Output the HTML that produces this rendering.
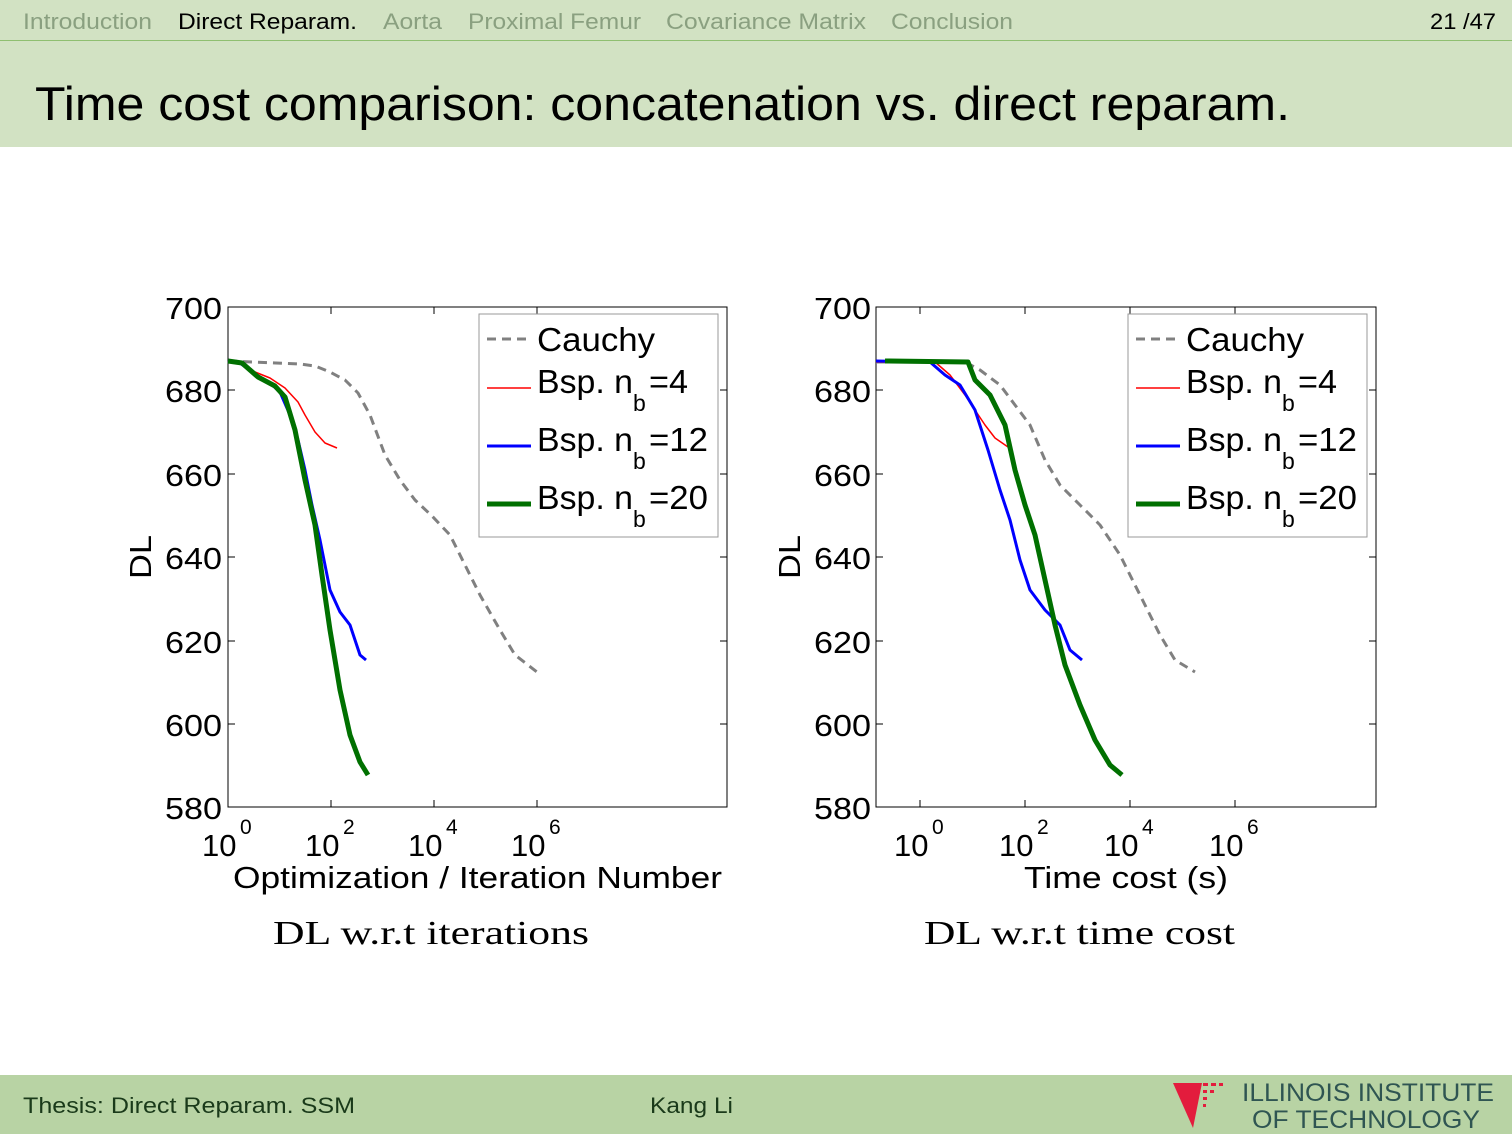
<!DOCTYPE html>
<html><head><meta charset="utf-8"><style>
body{margin:0;width:1512px;height:1134px;background:#fff;font-family:"Liberation Sans",sans-serif;overflow:hidden;position:relative}
</style></head><body>
<svg width="1512" height="1134" style="position:absolute;left:0;top:0" font-family="Liberation Sans, sans-serif">
<rect x="0" y="0" width="1512" height="147" fill="#d2e2c3"/>
<path d="M0 40.5h1512" stroke="#8fbf70" stroke-width="1"/>
<g font-size="22" fill="#8aa080" lengthAdjust="spacingAndGlyphs">
<text x="23" y="29" textLength="129" lengthAdjust="spacingAndGlyphs">Introduction</text>
<text x="178" y="29" textLength="179" lengthAdjust="spacingAndGlyphs" fill="#000">Direct Reparam.</text>
<text x="383" y="29" textLength="59" lengthAdjust="spacingAndGlyphs">Aorta</text>
<text x="468" y="29" textLength="173" lengthAdjust="spacingAndGlyphs">Proximal Femur</text>
<text x="666" y="29" textLength="200" lengthAdjust="spacingAndGlyphs">Covariance Matrix</text>
<text x="891" y="29" textLength="122" lengthAdjust="spacingAndGlyphs">Conclusion</text>
<text x="1430" y="29" textLength="66" lengthAdjust="spacingAndGlyphs" fill="#000">21 /47</text>
</g>
<text x="35" y="120" font-size="47" textLength="1255" lengthAdjust="spacingAndGlyphs" fill="#000">Time cost comparison: concatenation vs. direct reparam.</text>
<g fill="none" stroke="#000" stroke-width="1">
<rect x="228" y="307" width="499" height="500"/>
<rect x="876" y="307" width="500" height="500"/>
<path d="M228 390h7M228 474h7M228 557h7M228 641h7M228 724h7M727 390h-7M727 474h-7M727 557h-7M727 641h-7M727 724h-7M331 807v-7M434 807v-7M537 807v-7M331 307v7M434 307v7M537 307v7"/>
<path d="M876 390h7M876 474h7M876 557h7M876 641h7M876 724h7M1376 390h-7M1376 474h-7M1376 557h-7M1376 641h-7M1376 724h-7M920 807v-7M1025 807v-7M1130 807v-7M1235 807v-7M920 307v7M1025 307v7M1130 307v7M1235 307v7"/>
</g>
<g font-size="31" fill="#000" text-anchor="end">
<text x="222" y="319" textLength="57" lengthAdjust="spacingAndGlyphs">700</text><text x="222" y="402" textLength="57" lengthAdjust="spacingAndGlyphs">680</text><text x="222" y="486" textLength="57" lengthAdjust="spacingAndGlyphs">660</text><text x="222" y="569" textLength="57" lengthAdjust="spacingAndGlyphs">640</text><text x="222" y="653" textLength="57" lengthAdjust="spacingAndGlyphs">620</text><text x="222" y="736" textLength="57" lengthAdjust="spacingAndGlyphs">600</text><text x="222" y="819" textLength="57" lengthAdjust="spacingAndGlyphs">580</text>
<text x="871" y="319" textLength="57" lengthAdjust="spacingAndGlyphs">700</text><text x="871" y="402" textLength="57" lengthAdjust="spacingAndGlyphs">680</text><text x="871" y="486" textLength="57" lengthAdjust="spacingAndGlyphs">660</text><text x="871" y="569" textLength="57" lengthAdjust="spacingAndGlyphs">640</text><text x="871" y="653" textLength="57" lengthAdjust="spacingAndGlyphs">620</text><text x="871" y="736" textLength="57" lengthAdjust="spacingAndGlyphs">600</text><text x="871" y="819" textLength="57" lengthAdjust="spacingAndGlyphs">580</text>
</g>
<g font-size="31" fill="#000">
<text x="202" y="856">10</text><text x="240" y="834" font-size="21">0</text>
<text x="305" y="856">10</text><text x="343" y="834" font-size="21">2</text>
<text x="408" y="856">10</text><text x="446" y="834" font-size="21">4</text>
<text x="511" y="856">10</text><text x="549" y="834" font-size="21">6</text>
<text x="894" y="856">10</text><text x="932" y="834" font-size="21">0</text>
<text x="999" y="856">10</text><text x="1037" y="834" font-size="21">2</text>
<text x="1104" y="856">10</text><text x="1142" y="834" font-size="21">4</text>
<text x="1209" y="856">10</text><text x="1247" y="834" font-size="21">6</text>
<text x="233" y="888" textLength="489" lengthAdjust="spacingAndGlyphs">Optimization / Iteration Number</text>
<text x="1024" y="888" textLength="204" lengthAdjust="spacingAndGlyphs">Time cost (s)</text>
<text transform="translate(151,579) rotate(-90)" textLength="44" lengthAdjust="spacingAndGlyphs">DL</text>
<text transform="translate(800,579) rotate(-90)" textLength="44" lengthAdjust="spacingAndGlyphs">DL</text>
</g>
<g font-family="Liberation Serif, serif" font-size="34" fill="#000">
<text x="273" y="944" textLength="316" lengthAdjust="spacingAndGlyphs">DL w.r.t iterations</text>
<text x="924" y="944" textLength="311" lengthAdjust="spacingAndGlyphs">DL w.r.t time cost</text>
</g>
<g fill="none" stroke-linejoin="round">
<polyline stroke="#808080" stroke-width="3" stroke-dasharray="9,6" points="228,361 300,364 315,366 330,372 345,380 358,393 370,415 385,455 400,480 415,500 432,516 450,535 465,565 480,595 500,630 515,655 537,672"/>
<polyline stroke="#f00" stroke-width="1.5" points="228,361 240,363 255,372 270,378 285,388 298,402 305,415 315,432 325,443 337,448"/>
<polyline stroke="#00f" stroke-width="3" points="228,361 240,363 255,374 270,383 280,392 290,415 298,440 305,470 312,505 320,540 330,590 340,612 350,625 360,655 366,660"/>
<polyline stroke="#007000" stroke-width="5" points="228,361 242,363 258,377 275,386 285,397 295,430 305,480 315,525 322,575 330,630 340,690 350,735 360,762 368,775"/>
<polyline stroke="#808080" stroke-width="3" stroke-dasharray="9,6" points="876,362 965,362 980,370 1000,385 1015,405 1030,425 1045,460 1060,485 1080,505 1100,525 1120,555 1140,595 1160,635 1175,660 1195,672"/>
<polyline stroke="#f00" stroke-width="1.5" points="876,362 935,362 950,375 965,395 975,410 985,425 995,438 1008,447"/>
<polyline stroke="#00f" stroke-width="3" points="876,361 930,362 945,375 960,385 975,410 988,450 1000,490 1010,520 1020,560 1030,590 1045,610 1060,625 1070,650 1082,660"/>
<polyline stroke="#007000" stroke-width="5" points="885,361 968,362 975,380 990,395 1005,425 1015,470 1025,505 1035,535 1045,580 1055,625 1065,665 1080,705 1095,740 1110,765 1122,775"/>
</g>
<rect x="479" y="314" width="239" height="223" fill="#fff" stroke="#999"/>
<rect x="1128" y="314" width="239" height="223" fill="#fff" stroke="#999"/>
<g fill="none">
<path d="M487 339h44" stroke="#808080" stroke-width="3" stroke-dasharray="9,6"/>
<path d="M487 388h44" stroke="#f00" stroke-width="1.5"/>
<path d="M487 446h44" stroke="#00f" stroke-width="3"/>
<path d="M487 504h44" stroke="#007000" stroke-width="5"/>
<path d="M1136 339h44" stroke="#808080" stroke-width="3" stroke-dasharray="9,6"/>
<path d="M1136 388h44" stroke="#f00" stroke-width="1.5"/>
<path d="M1136 446h44" stroke="#00f" stroke-width="3"/>
<path d="M1136 504h44" stroke="#007000" stroke-width="5"/>
</g>
<g font-size="33" fill="#000">
<text x="537" y="351" textLength="118" lengthAdjust="spacingAndGlyphs">Cauchy</text>
<text x="537" y="393" textLength="96" lengthAdjust="spacingAndGlyphs">Bsp. n</text><text x="633" y="411" font-size="23">b</text><text x="649" y="393" textLength="39" lengthAdjust="spacingAndGlyphs">=4</text>
<text x="537" y="451" textLength="96" lengthAdjust="spacingAndGlyphs">Bsp. n</text><text x="633" y="469" font-size="23">b</text><text x="649" y="451" textLength="59" lengthAdjust="spacingAndGlyphs">=12</text>
<text x="537" y="509" textLength="96" lengthAdjust="spacingAndGlyphs">Bsp. n</text><text x="633" y="527" font-size="23">b</text><text x="649" y="509" textLength="59" lengthAdjust="spacingAndGlyphs">=20</text>
<text x="1186" y="351" textLength="118" lengthAdjust="spacingAndGlyphs">Cauchy</text>
<text x="1186" y="393" textLength="96" lengthAdjust="spacingAndGlyphs">Bsp. n</text><text x="1282" y="411" font-size="23">b</text><text x="1298" y="393" textLength="39" lengthAdjust="spacingAndGlyphs">=4</text>
<text x="1186" y="451" textLength="96" lengthAdjust="spacingAndGlyphs">Bsp. n</text><text x="1282" y="469" font-size="23">b</text><text x="1298" y="451" textLength="59" lengthAdjust="spacingAndGlyphs">=12</text>
<text x="1186" y="509" textLength="96" lengthAdjust="spacingAndGlyphs">Bsp. n</text><text x="1282" y="527" font-size="23">b</text><text x="1298" y="509" textLength="59" lengthAdjust="spacingAndGlyphs">=20</text>
</g>
<rect x="0" y="1075" width="1512" height="59" fill="#b8d3a4"/>
<g font-size="22" fill="#1a3a1a">
<text x="23" y="1113" textLength="332" lengthAdjust="spacingAndGlyphs">Thesis: Direct Reparam. SSM</text>
<text x="650" y="1113" textLength="83" lengthAdjust="spacingAndGlyphs">Kang Li</text>
</g>
<polygon points="1173,1083 1202,1083 1193,1128" fill="#e31c3d"/>
<g fill="#e31c3d"><rect x="1203" y="1083" width="5" height="3"/><rect x="1211" y="1083" width="5" height="3"/><rect x="1219" y="1083" width="4" height="3"/><rect x="1203" y="1090" width="4" height="3"/><rect x="1210" y="1090" width="4" height="3"/><rect x="1203" y="1097" width="4" height="3"/><rect x="1203" y="1104" width="3" height="3"/></g>
<g font-size="25" fill="#2f5552">
<text x="1242" y="1101" textLength="252" lengthAdjust="spacingAndGlyphs">ILLINOIS INSTITUTE</text>
<text x="1252" y="1128" textLength="228" lengthAdjust="spacingAndGlyphs">OF TECHNOLOGY</text>
</g>
</svg>
</body></html>
